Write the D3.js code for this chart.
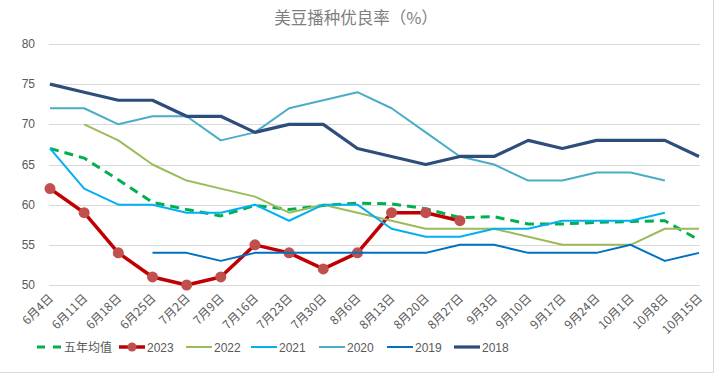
<!DOCTYPE html>
<html>
<head>
<meta charset="utf-8">
<script src="https://cdn.jsdelivr.net/npm/d3@7"></script>
<style>
  body { margin: 0; background: #fff; }
  svg { display: block; font-family: "Liberation Sans", "Noto Sans CJK SC", sans-serif; }
</style>
</head>
<body>
<svg id="chart" width="718" height="374"></svg>
<script>
const dates = ['6月4日', '6月11日', '6月18日', '6月25日', '7月2日', '7月9日', '7月16日', '7月23日', '7月30日', '8月6日',
    '8月13日', '8月20日', '8月27日', '9月3日', '9月10日', '9月17日', '9月24日', '10月1日', '10月8日', '10月15日'];
const yTicks = [50, 55, 60, 65, 70, 75, 80];

const avg5 = [67, 65.8, 63.1, 60.3, 59.4, 58.6, 59.9, 59.4, 59.9, 60.2, 60.1, 59.5, 58.4, 58.5, 57.6, 57.6, 57.8, 57.9, 58, 55.6];
const y2023 = [62, 59, 54, 51, 50, 51, 55, 54, 52, 54, 59, 59, 58, null, null, null, null, null, null, null];
const y2022 = [null, 70, 68, 65, 63, 62, 61, 59, 60, 59, 58, 57, 57, 57, 56, 55, 55, 55, 57, 57];
const y2021 = [67, 62, 60, 60, 59, 59, 60, 58, 60, 60, 57, 56, 56, 57, 57, 58, 58, 58, 59, null];
const y2020 = [72, 72, 70, 71, 71, 68, 69, 72, 73, 74, 72, 69, 66, 65, 63, 63, 64, 64, 63, null];
const y2019 = [null, null, null, 54, 54, 53, 54, 54, 54, 54, 54, 54, 55, 55, 54, 54, 54, 55, 53, 54];
const y2018 = [75, 74, 73, 73, 71, 71, 69, 70, 70, 67, 66, 65, 66, 66, 68, 67, 68, 68, 68, 66];

const series = [
    { name: '五年均值', values: avg5, color: '#00B050', width: 3, dash: '9,6' },
    { name: '2023', values: y2023, color: '#C00000', width: 3.5, marker: '#C0504D' },
    { name: '2022', values: y2022, color: '#9BBB59', width: 2 },
    { name: '2021', values: y2021, color: '#00B0F0', width: 2 },
    { name: '2020', values: y2020, color: '#4BACC6', width: 2 },
    { name: '2019', values: y2019, color: '#0070C0', width: 2 },
    { name: '2018', values: y2018, color: '#2E4D7B', width: 3.2 },
];

const svg = d3.select('#chart');
const left = 50;
const right = 699;

const x = d3.scalePoint().domain(dates).range([left, right]);
const y = d3.scaleLinear().domain([50, 80]).range([285, 44]);

// frame
svg.append('path')
    .attr('d', 'M713.5,0 V372.5 H0')
    .attr('fill', 'none')
    .attr('stroke', '#d9d9d9');

// title
svg.append('text')
    .attr('x', 356)
    .attr('y', 24)
    .attr('text-anchor', 'middle')
    .attr('font-family', '"Noto Sans CJK SC", sans-serif')
    .attr('font-size', 16.5)
    .attr('fill', '#7f7f7f')
    .text('美豆播种优良率（%）');

// grid + y labels
const yAxis = svg.append('g');
yAxis.selectAll('line')
    .data(yTicks)
    .enter()
    .append('line')
    .attr('x1', left - 1)
    .attr('x2', right + 1)
    .attr('y1', (d) => Math.round(y(d)) + 0.5)
    .attr('y2', (d) => Math.round(y(d)) + 0.5)
    .attr('stroke', '#d9d9d9')
    .attr('stroke-width', 1.2);
yAxis.selectAll('text')
    .data(yTicks)
    .enter()
    .append('text')
    .attr('x', 35)
    .attr('y', (d) => y(d) + 4)
    .attr('text-anchor', 'end')
    .attr('font-size', 12)
    .attr('fill', '#595959')
    .text((d) => d);

// x labels
svg.append('g')
    .selectAll('text')
    .data(dates)
    .enter()
    .append('text')
    .attr('transform', (d) => `translate(${x(d) + 4},${299}) rotate(-45)`)
    .attr('text-anchor', 'end')
    .attr('font-family', '"Noto Sans CJK SC", sans-serif')
    .attr('font-size', 12)
    .attr('fill', '#595959')
    .text((d) => d);

// lines
const line = d3.line()
    .defined((d) => d != null)
    .x((d, i) => x(dates[i]))
    .y((d) => y(d));

series.forEach((s) => {
    svg.append('path')
        .datum(s.values)
        .attr('d', line)
        .attr('fill', 'none')
        .attr('stroke', s.color)
        .attr('stroke-width', s.width)
        .attr('stroke-linejoin', 'round')
        .attr('stroke-dasharray', s.dash || null);

    if (s.marker) {
        svg.append('g')
            .selectAll('circle')
            .data(s.values.map((v, i) => [v, i]).filter((d) => d[0] != null))
            .enter()
            .append('circle')
            .attr('cx', (d) => x(dates[d[1]]))
            .attr('cy', (d) => y(d[0]))
            .attr('r', 5.5)
            .attr('fill', s.marker);
    }
});

// legend
const legendX = [37, 119, 186, 251, 319, 387, 454];
const legend = svg.append('g')
    .selectAll('g')
    .data(series)
    .enter()
    .append('g')
    .attr('transform', (d, i) => `translate(${legendX[i]},347)`);

legend.append('line')
    .attr('x1', 0)
    .attr('x2', (d) => (d.dash ? 24 : 26))
    .attr('stroke', (d) => d.color)
    .attr('stroke-width', (d) => (d.dash ? 3 : d.width))
    .attr('stroke-dasharray', (d) => (d.dash ? '8,8' : null));

legend.filter((d) => d.marker)
    .append('circle')
    .attr('cx', 13)
    .attr('r', 4.5)
    .attr('fill', (d) => d.marker);

legend.append('text')
    .attr('x', (d) => (d.dash ? 27 : 28))
    .attr('y', 4.5)
    .attr('font-family', (d) => (d.dash ? '"Noto Sans CJK SC", sans-serif' : null))
    .attr('font-size', 12)
    .attr('fill', '#595959')
    .text((d) => d.name);
</script>
</body>
</html>
